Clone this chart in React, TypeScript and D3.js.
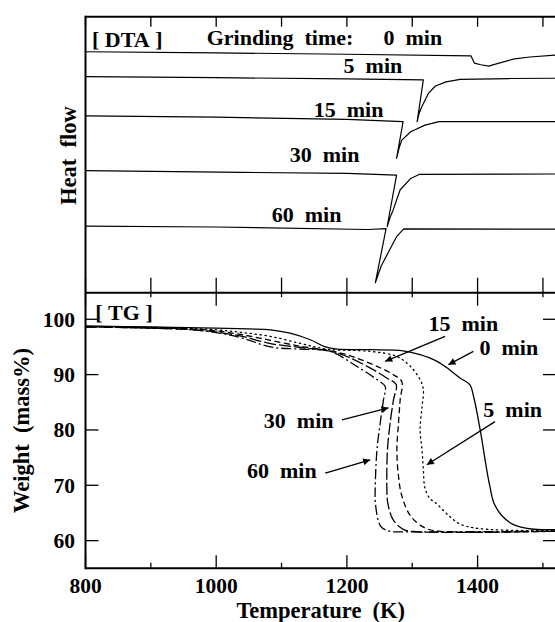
import React from 'react';
import * as d3 from 'd3';

const W = 555;
const H = 622;

// Temperature axis (K)
const tempTicks = [800, 900, 1000, 1100, 1200, 1300, 1400, 1500];
const tempMajor = [800, 1000, 1200, 1400];
const weightTicks = [60, 70, 80, 90, 100];

// DTA curves: [temperature K, heat flow (arbitrary units)]
const dta0 = [[800, 87.3], [1000, 86.9], [1200, 86.4], [1390, 85.8], [1395, 83.2], [1405, 82.6], [1417, 82.1], [1430, 83.0], [1454, 84.6], [1480, 85.4], [1520, 86.1]];
const dta5 = [[800, 78.3], [1000, 77.9], [1200, 77.5], [1317, 77.1], [1307.5, 62.0], [1310.5, 65.0], [1314.6, 67.4], [1324.7, 72.2], [1335.5, 74.9], [1351.8, 76.4], [1373.2, 77.3], [1450, 77.6], [1520, 77.7]];
const dta15 = [[800, 64.1], [1000, 63.6], [1200, 62.8], [1286, 62.0], [1276, 48.7], [1280, 52.5], [1284, 55.3], [1297.7, 58.3], [1319.4, 60.7], [1341, 62.0], [1520, 62.0]];
const dta30 = [[800, 44.2], [1040, 43.6], [1200, 43.2], [1276, 42.6], [1261.6, 23.9], [1266, 27.2], [1270.7, 29.9], [1281.4, 37.2], [1297.7, 41.4], [1311.3, 42.9], [1520, 43.0]];
const dta60 = [[800, 24.1], [1000, 23.8], [1232, 22.9], [1260, 23.2], [1243.5, 3.6], [1252.5, 9.7], [1265.3, 15.5], [1276, 20.3], [1287, 23.1], [1520, 23.0]];

// TG curves: [temperature K, weight mass%]
const tg0 = [[800, 98.8], [900, 98.6], [1000, 98.4], [1050, 98.25], [1083, 98.1], [1113, 97.5], [1144, 96.3], [1167, 95.0], [1185, 94.6], [1236, 94.5], [1286, 94.3], [1312, 93.6], [1338, 92.4], [1358, 90.8], [1373, 89.4], [1388, 88.2], [1394, 86.0], [1404, 80.0], [1414, 72.8], [1419, 69.7], [1425, 66.8], [1438, 64.4], [1455, 62.9], [1482, 62.1], [1520, 62.0]];
const tg5 = [[800, 98.7], [950, 98.4], [1000, 98.1], [1040, 97.6], [1083, 96.9], [1130, 95.6], [1170, 94.6], [1236, 94.2], [1276, 93.3], [1297, 91.5], [1312, 89.1], [1317, 87.3], [1315, 84.2], [1312, 80.0], [1315, 76.4], [1317, 72.8], [1319.5, 69.5], [1327, 67.6], [1336, 66.8], [1357, 64.4], [1373, 63.0], [1395, 62.3], [1440, 61.9], [1520, 61.8]];
const tg15 = [[800, 98.7], [950, 98.3], [1000, 97.9], [1040, 97.2], [1083, 96.2], [1130, 95.1], [1170, 94.4], [1200, 93.6], [1246, 91.5], [1271, 90.0], [1284, 88.75], [1281.5, 85.45], [1279, 81.25], [1276.5, 76.4], [1279, 71.6], [1284.3, 68.0], [1297.7, 64.4], [1319.4, 62.3], [1341, 61.7], [1520, 61.7]];
const tg30 = [[800, 98.6], [950, 98.2], [1000, 97.7], [1040, 96.9], [1083, 95.6], [1130, 94.9], [1185, 93.9], [1231, 91.5], [1261, 89.4], [1275.4, 88.2], [1271.3, 85.45], [1266.2, 81.25], [1262.1, 76.4], [1261.2, 69.2], [1262.6, 66.8], [1270.7, 63.8], [1287, 62.0], [1308.6, 61.6], [1520, 61.7]];
const tg60 = [[800, 98.6], [950, 98.2], [1000, 97.6], [1040, 96.6], [1083, 95.0], [1130, 94.6], [1174.5, 94.2], [1215, 91.5], [1246, 89.1], [1258.6, 87.85], [1256, 85.45], [1251, 81.25], [1246, 76.4], [1243.3, 69.2], [1243.6, 66.8], [1251.7, 62.6], [1265.3, 61.7], [1292, 61.6], [1520, 61.7]];

const S = '\u00a0';
const S2 = '\u00a0\u00a0';

// DTA labels: [text, T, heat flow, anchor]
const dtaLabels: [string, number, number, string][] = [
  ['[' + S + 'DTA' + S + ']', 810, 89.1, 'start'],
  ['Grinding' + S2 + 'time:', 985.5, 89.7, 'start'],
  ['0' + S2 + 'min', 1256, 89.7, 'start'],
  ['5' + S2 + 'min', 1195, 79.5, 'start'],
  ['15' + S2 + 'min', 1149.3, 63.7, 'start'],
  ['30' + S2 + 'min', 1112.6, 47.4, 'start'],
  ['60' + S2 + 'min', 1085, 25.6, 'start'],
];

// TG labels: [text, T, weight, anchor]
const tgLabels: [string, number, number, string][] = [
  ['[' + S + 'TG' + S + ']', 815, 99.9, 'start'],
  ['15' + S2 + 'min', 1324.8, 97.9, 'start'],
  ['0' + S2 + 'min', 1403, 93.5, 'start'],
  ['5' + S2 + 'min', 1408.8, 82.4, 'start'],
  ['30' + S2 + 'min', 1179.6, 80.3, 'end'],
  ['60' + S2 + 'min', 1153.8, 71.3, 'end'],
];

// TG arrows: [T start, w start, T end, w end]
const tgArrows = [
  [1350.3, 96.9, 1258.6, 92.4],
  [1393.6, 94.2, 1355.3, 91.8],
  [1426.7, 81.5, 1322.3, 73.7],
  [1192.4, 81.8, 1263.6, 84.0],
  [1166.9, 72.2, 1235.7, 74.6],
];

const FONT = "'Liberation Serif', 'Times New Roman', serif";

export default function App() {
  const left = 85.5;
  const right = 556;
  const dtaTop = 16.7;
  const divY = 292.7;
  const bottom = 568.3;

  const x = d3.scaleLinear().domain([800, 1520]).range([left, right]);
  const yD = d3.scaleLinear().domain([0, 100]).range([divY, dtaTop]);
  const yT = d3.scaleLinear().domain([55, 104.8]).range([bottom, divY]);

  const lineD = d3.line<number[]>().x(d => x(d[0])).y(d => yD(d[1])).curve(d3.curveLinear);
  const lineT = d3.line<number[]>().x(d => x(d[0])).y(d => yT(d[1])).curve(d3.curveCatmullRom.alpha(0.5));

  const dtaSeries = [dta0, dta5, dta15, dta30, dta60];
  const tgSeries: [number[][], string][] = [
    [tg0, 'none'],
    [tg5, '1.3,3.7'],
    [tg15, '6,3.5'],
    [tg30, '12,3'],
    [tg60, '10,3,2,3'],
  ];

  const textStyle: React.CSSProperties = { fontFamily: FONT, fontWeight: 'bold' };

  return (
    <svg width={W} height={H} style={{ position: 'absolute', left: 0, top: 0, background: '#fff' }}>
      <defs>
        <marker id="ah" viewBox="0 0 10 10" refX="10" refY="5" markerWidth="10" markerHeight="7" markerUnits="userSpaceOnUse" orient="auto">
          <path d="M0,0 L10,5 L0,10 z" fill="#000" />
        </marker>
        <clipPath id="clipD"><rect x={left} y={dtaTop} width={right - left} height={divY - dtaTop} /></clipPath>
        <clipPath id="clipT"><rect x={left} y={divY} width={right - left} height={bottom - divY} /></clipPath>
      </defs>
      <rect x={0} y={0} width={W} height={H} fill="#fff" />

      {/* Frames */}
      <g stroke="#000" strokeWidth={2} fill="none">
        <line x1={left} x2={W} y1={dtaTop} y2={dtaTop} />
        <line x1={left} x2={W} y1={divY} y2={divY} />
        <line x1={left} x2={W} y1={bottom} y2={bottom} />
        <line x1={left} x2={left} y1={dtaTop - 1} y2={bottom + 1} />
        <line x1={right} x2={right} y1={dtaTop} y2={bottom} />
      </g>

      {/* Ticks */}
      <g stroke="#000" strokeWidth={1.3}>
        {tempTicks.map(t => (
          <g key={t}>
            <line x1={x(t)} x2={x(t)} y1={dtaTop} y2={dtaTop + 10} />
            <line x1={x(t)} x2={x(t)} y1={divY} y2={divY - 15} />
            <line x1={x(t)} x2={x(t)} y1={divY} y2={divY + (t % 200 === 0 ? 13 : 4.5)} />
            <line x1={x(t)} x2={x(t)} y1={bottom} y2={bottom - (t % 200 === 0 ? 13 : 5.5)} />
          </g>
        ))}
        {weightTicks.map(w => (
          <g key={w}>
            <line x1={left} x2={left + 13} y1={yT(w)} y2={yT(w)} />
            <line x1={right} x2={right - 13} y1={yT(w)} y2={yT(w)} />
          </g>
        ))}
      </g>

      {/* Tick labels */}
      <g style={textStyle} fontSize={21.5} fill="#000">
        {tempMajor.map(t => (
          <text key={t} x={x(t)} y={592.5} textAnchor="middle">{t}</text>
        ))}
        {weightTicks.map(w => (
          <text key={w} x={75} y={yT(w) + 7.5} textAnchor="end">{w}</text>
        ))}
      </g>

      {/* Axis titles */}
      <g style={textStyle} fontSize={22.5} fill="#000">
        <text x={(left + right) / 2} y={617.5} textAnchor="middle">{'Temperature' + S2 + '(K)'}</text>
        <text transform={`translate(29,${(divY + bottom) / 2}) rotate(-90)`} textAnchor="middle">{'Weight' + S2 + '(mass%)'}</text>
        <text transform={`translate(76,${(dtaTop + divY) / 2 + 1}) rotate(-90)`} textAnchor="middle">{'Heat' + S2 + 'flow'}</text>
      </g>

      {/* DTA curves */}
      <g clipPath="url(#clipD)" fill="none" stroke="#000" strokeWidth={1.2} strokeLinejoin="round">
        {dtaSeries.map((s, i) => (
          <path key={i} d={lineD(s) || ''} />
        ))}
      </g>

      {/* TG curves */}
      <g clipPath="url(#clipT)" fill="none" stroke="#000" strokeWidth={1.3} strokeLinejoin="round">
        {tgSeries.map(([s, dash], i) => (
          <path key={i} d={lineT(s) || ''} strokeDasharray={dash === 'none' ? undefined : dash} strokeLinecap={i === 1 ? 'round' : 'butt'} />
        ))}
      </g>

      {/* Arrows */}
      <g stroke="#000" strokeWidth={1.3}>
        {tgArrows.map((a, i) => (
          <line key={i} x1={x(a[0])} y1={yT(a[1])} x2={x(a[2])} y2={yT(a[3])} markerEnd="url(#ah)" />
        ))}
      </g>

      {/* Labels */}
      <g style={textStyle} fontSize={22} fill="#000">
        {dtaLabels.map(([t, T, v, anc], i) => (
          <text key={'d' + i} x={x(T)} y={yD(v)} textAnchor={anc}>{t}</text>
        ))}
        {tgLabels.map(([t, T, v, anc], i) => (
          <text key={'t' + i} x={x(T)} y={yT(v)} textAnchor={anc}>{t}</text>
        ))}
      </g>
    </svg>
  );
}
